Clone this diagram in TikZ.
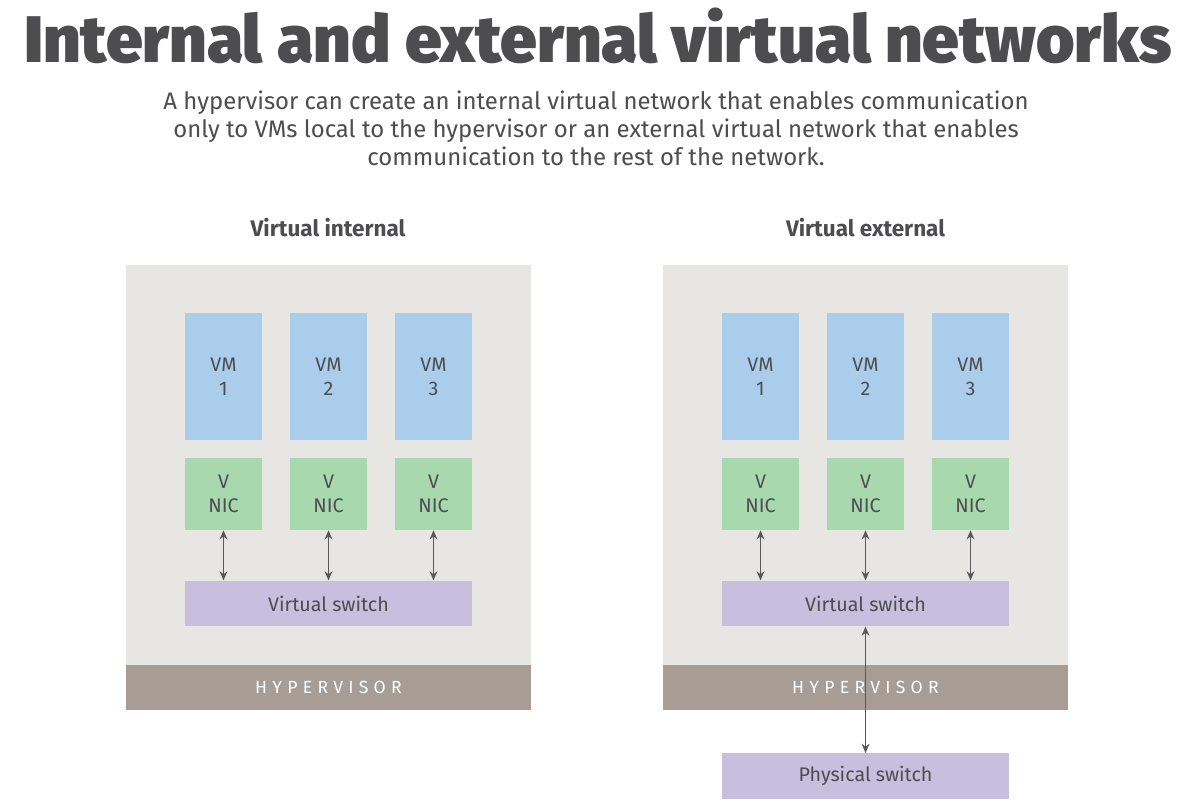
\documentclass[tikz,border=0pt]{standalone}
\usepackage{fontspec}
\setmainfont{Fira Sans}
\newfontfamily\titlefont{Fira Sans Black}
\usetikzlibrary{arrows.meta}
\definecolor{inkgray}{HTML}{4D4D4F}
\definecolor{panelgray}{HTML}{E8E6E3}
\definecolor{hypbrown}{HTML}{A89D94}
\definecolor{vmblue}{HTML}{AACDEB}
\definecolor{nicgreen}{HTML}{A8D8AE}
\definecolor{swpurple}{HTML}{C8BEDD}
\definecolor{arrowgray}{HTML}{58585A}

\begin{document}
\begin{tikzpicture}[x=0.025cm, y=-0.025cm,
    box/.style={inner sep=0pt, text=inkgray, align=center, font=\fontsize{14}{17}\selectfont},
    vmbox/.style={box, fill=vmblue, minimum width=1.925cm, minimum height=3.175cm},
    nicbox/.style={box, fill=nicgreen, minimum width=1.925cm, minimum height=1.8cm},
    swbox/.style={box, fill=swpurple, minimum width=7.175cm, minimum height=1.14cm},
    panel/.style={fill=panelgray, inner sep=0pt, minimum width=10.125cm, minimum height=11.125cm},
    hypband/.style={fill=hypbrown, inner sep=0pt, minimum width=10.125cm, minimum height=1.125cm,
      text=white, font=\fontsize{12.5}{14}\selectfont\addfontfeature{LetterSpace=30}},
    heading/.style={text=inkgray, font=\fontsize{16}{18}\selectfont\bfseries},
    link/.style={{Stealth[length=6.5pt,width=5.5pt]}-{Stealth[length=6.5pt,width=5.5pt]}, draw=arrowgray, line width=1.3pt}]
  \useasboundingbox [fill=white] (0,0) rectangle (1198,809);

  % title and subtitle
  \node (title) [anchor=base, text=inkgray, font=\fontsize{46.8}{56}\titlefont] at (598,62) {Internal and external virtual networks};
  \node (subtitle) [text=inkgray, align=center, font=\fontsize{17}{20}\selectfont] at (596,128)
    {A hypervisor can create an internal virtual network that enables communication\\
     only to VMs local to the hypervisor or an external virtual network that enables\\
     communication to the rest of the network.};

  % virtual internal
  \node (headA) [heading] at (328,228) {Virtual internal};
  \node (panelA) [panel] at (328.5,487.5) {};
  \node (hypA) [hypband] at (328.5,687.5) {HYPERVISOR};
  \foreach \i/\x in {1/223.5, 2/328.5, 3/433.5} {
    \node (vmA\i) [vmbox] at (\x,376.5) {VM\\\i};
    \node (nicA\i) [nicbox] at (\x,494) {V\\NIC};
  }
  \node (vswA) [swbox] at (328.5,603.5) {Virtual switch};
  \foreach \i in {1,2,3}
    \draw [link] (nicA\i.south) -- (nicA\i.south |- vswA.north);

  % virtual external
  \node (headB) [heading] at (865.5,228) {Virtual external};
  \node (panelB) [panel] at (865.5,487.5) {};
  \node (hypB) [hypband] at (865.5,687.5) {HYPERVISOR};
  \foreach \i/\x in {1/760.5, 2/865.5, 3/970.5} {
    \node (vmB\i) [vmbox] at (\x,376.5) {VM\\\i};
    \node (nicB\i) [nicbox] at (\x,494) {V\\NIC};
  }
  \node (vswB) [swbox] at (865.5,603.5) {Virtual switch};
  \foreach \i in {1,2,3}
    \draw [link] (nicB\i.south) -- (nicB\i.south |- vswB.north);
  \node (physB) [swbox] at (865.5,776) {Physical switch};
  \draw [link] (vswB.south) -- (physB.north);
\end{tikzpicture}
\end{document}
